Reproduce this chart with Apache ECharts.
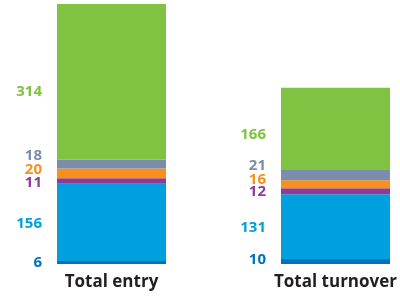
<!DOCTYPE html>
<html>
<head>
<meta charset="utf-8">
<script src="https://cdn.jsdelivr.net/npm/echarts@6/dist/echarts.min.js"></script>
<style>
  html, body { margin: 0; padding: 0; background: #fff; }
  #chart { width: 400px; height: 296px; }
</style>
</head>
<body>
<div id="chart"></div>
<script>
// data, bottom segment first
const categories = ["Total entry", "Total turnover"];
const seg1 = [6, 10];
const seg2 = [156, 131];
const seg3 = [11, 12];
const seg4 = [20, 16];
const seg5 = [18, 21];
const seg6 = [314, 166];

const segments = [seg1, seg2, seg3, seg4, seg5, seg6];
const colors = ["#0072bc", "#00a0e0", "#8e3b97", "#f7901e", "#7a8eab", "#80c241"];
// vertical nudge of each label so the small ones don't collide
const labelNudge = [[0, -2], [1, 1], [2, 1], [-3.5, -4.5], [-8, -9], [10, 6]];

const chart = echarts.init(document.getElementById("chart"));

const series = segments.map((vals, i) => ({
  type: "bar",
  stack: "total",
  barWidth: 109,
  clip: false,
  itemStyle: { color: colors[i] },
  label: {
    show: true,
    position: "left",
    distance: 15,
    color: colors[i],
    fontFamily: "Open Sans",
    fontWeight: "bold",
    fontSize: 15
  },
  data: vals.map((v, j) => ({
    value: v,
    label: { offset: [0, labelNudge[i][j]] }
  }))
}));

chart.setOption({
  animation: false,
  grid: { left: 111.5, right: 63.5, top: 4, bottom: 32 },
  xAxis: {
    type: "category",
    data: categories,
    boundaryGap: false,
    axisLine: { show: false },
    axisTick: { show: false },
    axisLabel: {
      color: "#231f20",
      fontFamily: "Open Sans",
      fontWeight: "bold",
      fontSize: 17,
      margin: 10
    }
  },
  yAxis: {
    type: "value",
    min: 0,
    max: 525,
    show: false,
    splitLine: { show: false }
  },
  series: series
});
</script>
</body>
</html>
